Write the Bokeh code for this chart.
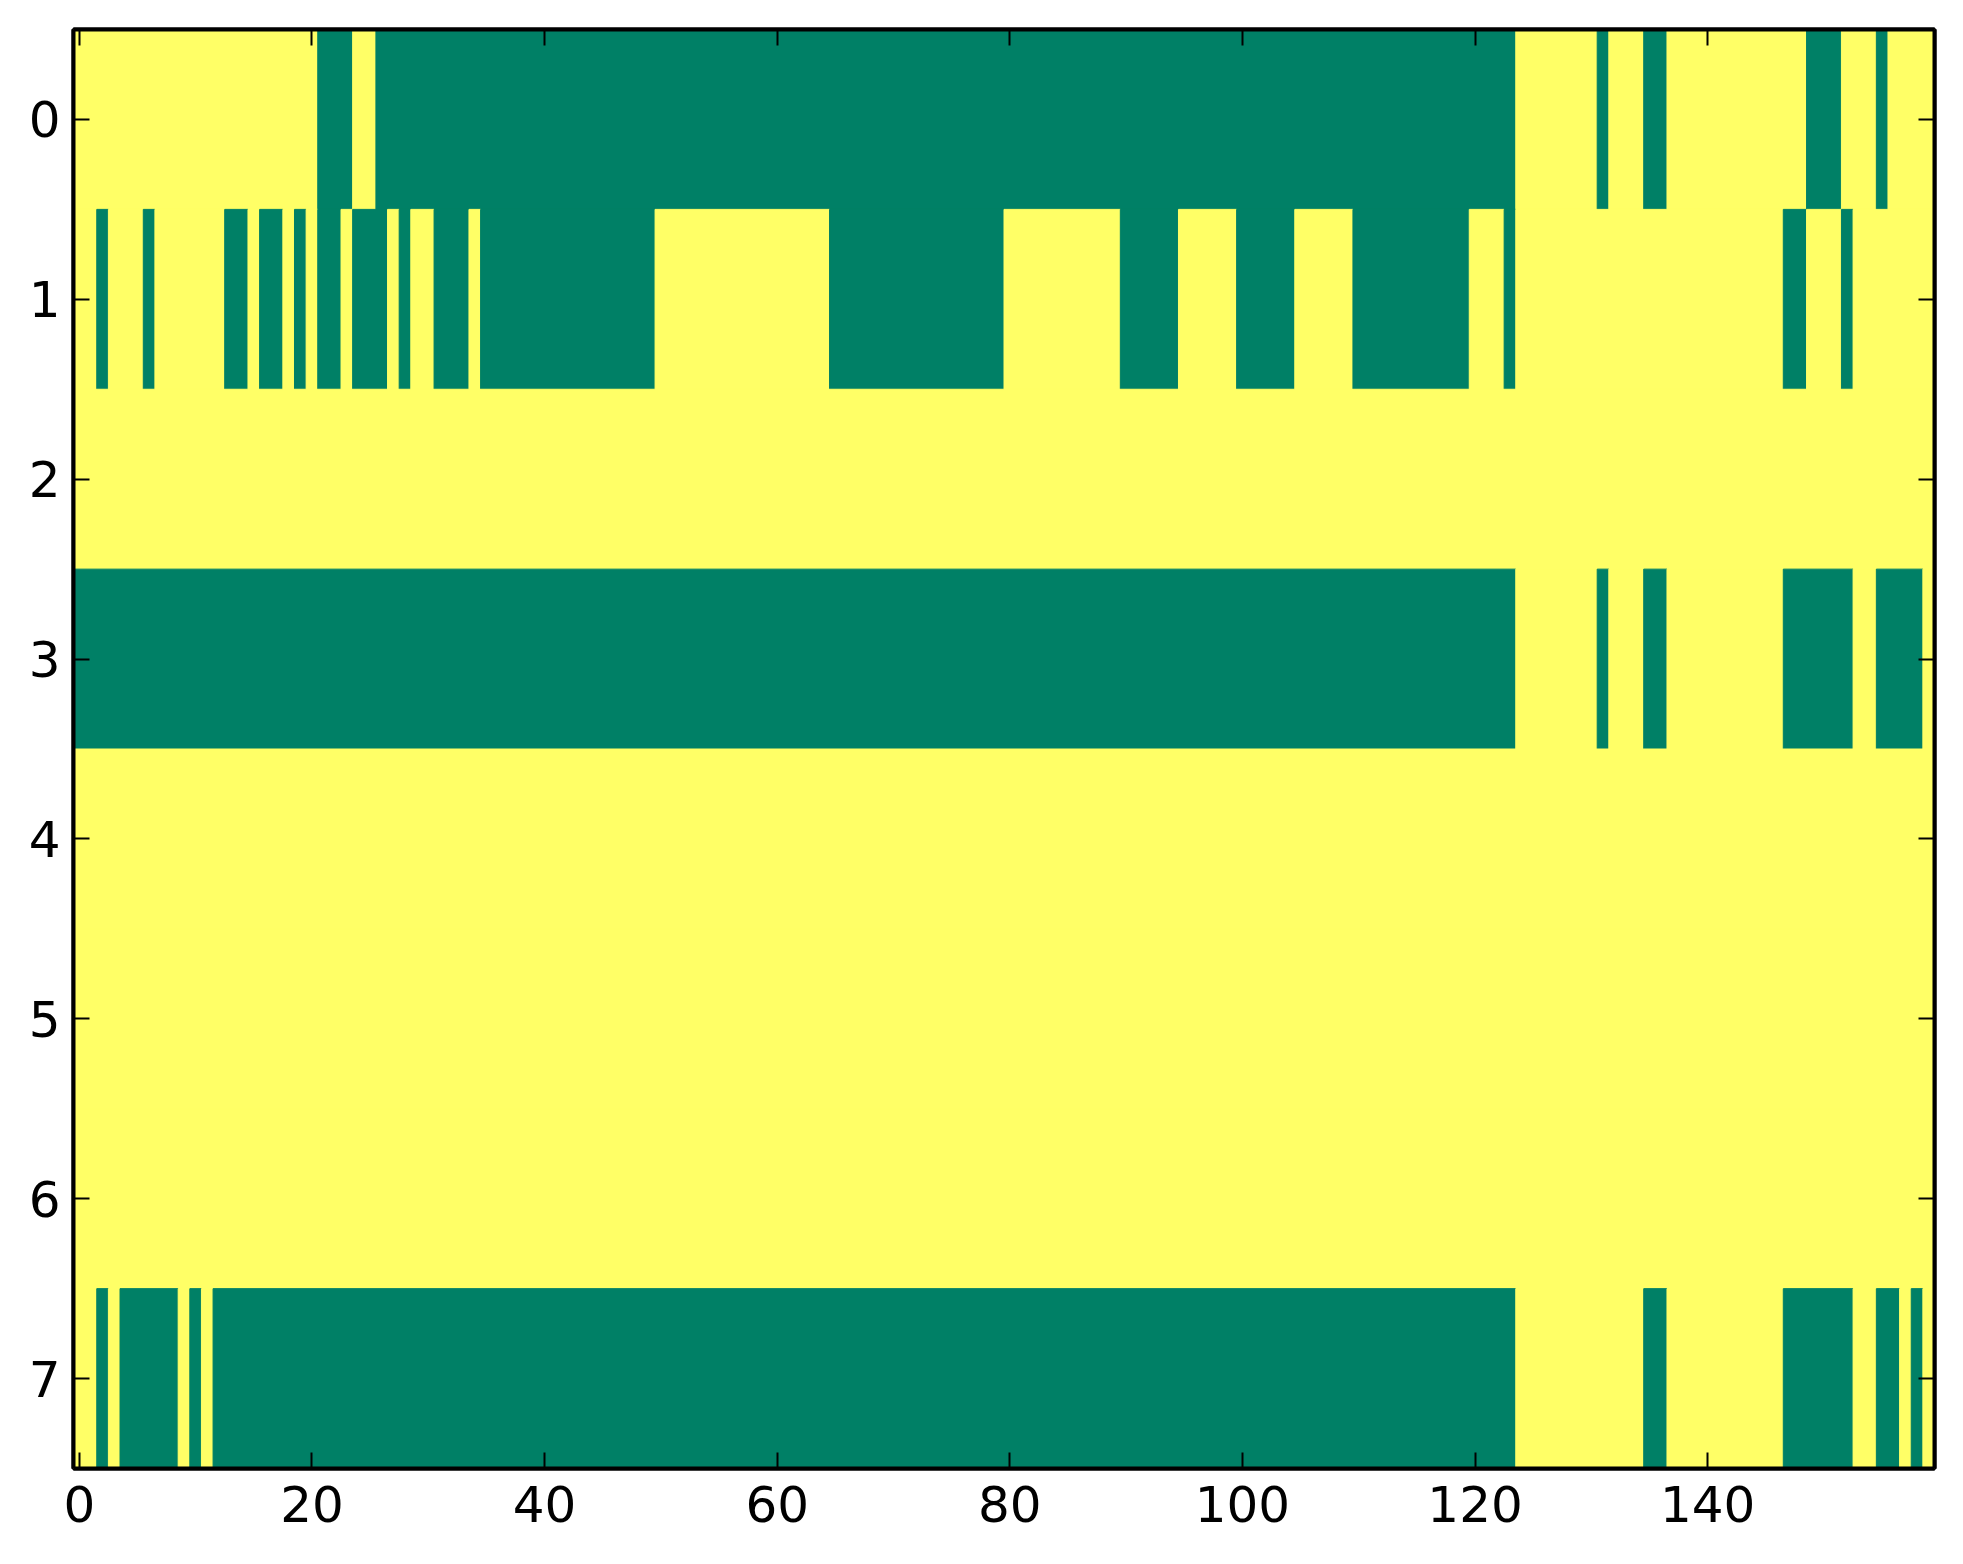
import numpy as np
from bokeh.plotting import figure
from bokeh.models import Range1d, FixedTicker, LinearAxis, ColumnDataSource
from bokeh.embed import file_html
from bokeh.resources import INLINE

n_rows = 8
n_cols = 160
y_ticks = [0, 1, 2, 3, 4, 5, 6, 7]
x_ticks = [0, 20, 40, 60, 80, 100, 120, 140]

# columns (inclusive spans) whose value is 0 (green); all other cells are 1 (yellow)
row0_zero = [(21, 23), (26, 123), (131, 131), (135, 136), (149, 151), (155, 155)]
row1_zero = [(2, 2), (6, 6), (13, 14), (16, 17), (19, 19), (21, 22), (24, 26), (28, 28),
             (31, 33), (35, 49), (65, 79), (90, 94), (100, 104), (110, 119), (123, 123),
             (147, 148), (152, 152)]
row2_zero = []
row3_zero = [(0, 123), (131, 131), (135, 136), (147, 152), (155, 158)]
row4_zero = []
row5_zero = []
row6_zero = []
row7_zero = [(2, 2), (4, 8), (10, 10), (12, 123), (135, 136), (147, 152), (155, 156), (158, 158)]

zero_spans = [row0_zero, row1_zero, row2_zero, row3_zero,
              row4_zero, row5_zero, row6_zero, row7_zero]

palette = ["#008066", "#ffff66"]  # matplotlib 'summer' at 0 and 1

values = np.ones((n_rows, n_cols), dtype=int)
for r, spans in enumerate(zero_spans):
    for a, b in spans:
        values[r, a:b + 1] = 0

# run-length cells per row
xs, ws, ys, cs = [], [], [], []
for r in range(n_rows):
    row = values[r]
    start = 0
    for c in range(1, n_cols + 1):
        if c == n_cols or row[c] != row[start]:
            xs.append((start + c - 1) / 2.0)
            ws.append(c - start)
            ys.append(r)
            cs.append(palette[row[start]])
            start = c

src = ColumnDataSource(dict(x=xs, w=ws, y=ys, c=cs))

p = figure(width=1946, height=1547,
           x_range=Range1d(-0.5, n_cols - 0.5),
           y_range=Range1d(n_rows - 0.5, -0.5),
           output_backend="svg", toolbar_location=None,
           min_border_left=73, min_border_right=12,
           min_border_top=29, min_border_bottom=79)

p.rect(x="x", y="y", width="w", height=1, source=src,
       fill_color="c", line_color="c", line_width=1)

p.grid.visible = False
p.background_fill_color = "#ffff66"
p.border_fill_color = "white"
p.outline_line_color = "black"
p.outline_line_width = 4

p.add_layout(LinearAxis(), "above")
p.add_layout(LinearAxis(), "right")

for ax in p.axis:
    ax.axis_line_color = "black"
    ax.axis_line_width = 4
    ax.major_tick_in = 16
    ax.major_tick_out = 0
    ax.major_tick_line_width = 2
    ax.major_tick_line_color = "black"
    ax.minor_tick_line_color = None
    ax.major_label_text_font = "DejaVu Sans"
    ax.major_label_text_font_size = "50px"
    ax.major_label_text_color = "black"

for ax in p.xaxis:
    ax.ticker = FixedTicker(ticks=x_ticks)
for ax in p.yaxis:
    ax.ticker = FixedTicker(ticks=y_ticks)

p.below[0].major_label_standoff = 17
p.left[0].major_label_standoff = 13
for ax in (p.above[0], p.right[0]):
    ax.major_label_text_font_size = "0px"
    ax.major_label_text_color = None
    ax.major_label_standoff = 0

open("out.html", "w").write(file_html(p, INLINE))
